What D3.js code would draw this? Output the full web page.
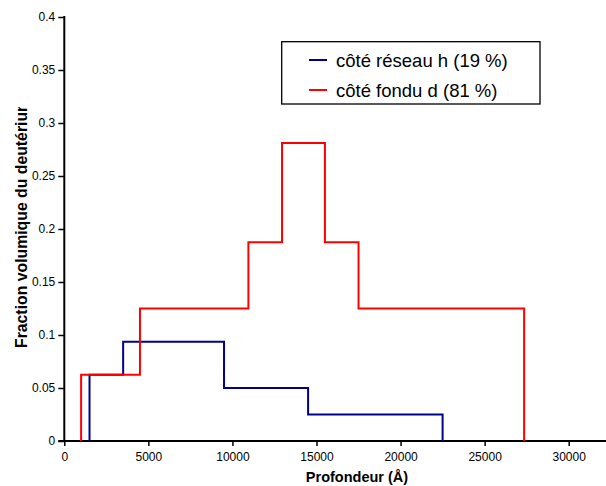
<!DOCTYPE html>
<html><head><meta charset="utf-8">
<script src="https://cdn.jsdelivr.net/npm/d3@7"></script>
<style>body{margin:0;background:#fff}svg{display:block}text{font-family:"Liberation Sans",Arial,sans-serif}</style>
</head><body>
<svg id="c" width="606" height="486"></svg>
<script>
// Step profiles: depth breakpoints (Å) and level values
const reseauX = [1500, 1500, 3500, 3500, 9500, 9500, 14500, 14500, 22500, 22500];
const reseauY = [0, 0.0625, 0.0625, 0.09375, 0.09375, 0.05, 0.05, 0.025, 0.025, 0];
const fonduX = [1000, 1000, 4500, 4500, 10950, 10950, 12950, 12950, 15500, 15500, 17500, 17500, 27350, 27350];
const fonduY = [0, 0.0625, 0.0625, 0.125, 0.125, 0.1875, 0.1875, 0.28125, 0.28125, 0.1875, 0.1875, 0.125, 0.125, 0];
const xTicks = [0, 5000, 10000, 15000, 20000, 25000, 30000];
const yTicks = [0, 0.05, 0.1, 0.15, 0.2, 0.25, 0.3, 0.35, 0.4];
const seriesNames = ["côté réseau h (19 %)", "côté fondu d (81 %)"];
const seriesColors = ["#000090", "#ff0000"];

const svg = d3.select("#c");
const x = d3.scaleLinear().domain([0, 30000]).range([64.3, 568.7]);
const y = d3.scaleLinear().domain([0, 0.4]).range([441, 17]);

// axes
const gx = svg.append("g").attr("transform", "translate(0,441)")
  .call(d3.axisBottom(x).tickValues(xTicks).tickFormat(d3.format("d")).tickSizeOuter(0).tickSize(5).tickPadding(6));
gx.select(".domain").remove();
svg.append("line").attr("x1", x(0) - 6).attr("x2", 606).attr("y1", 441).attr("y2", 441)
  .attr("stroke", "#000").attr("stroke-width", 2);
gx.selectAll(".tick line").attr("stroke-width", 1.5);
gx.selectAll("text").attr("font-size", 12).attr("fill", "#000");

const gy = svg.append("g").attr("transform", "translate(64.3,0)")
  .call(d3.axisLeft(y).tickValues(yTicks).tickFormat(d => d3.format("")(+d.toFixed(2))).tickSizeOuter(0).tickSize(6).tickPadding(3));
gy.select(".domain").remove();
svg.append("line").attr("x1", 64.3).attr("x2", 64.3).attr("y1", 16).attr("y2", 442)
  .attr("stroke", "#000").attr("stroke-width", 2);
gy.selectAll(".tick line").attr("stroke-width", 1.5);
gy.selectAll("text").attr("font-size", 12).attr("fill", "#000");

// titles
svg.append("text").attr("x", 357).attr("y", 482).attr("text-anchor", "middle")
  .attr("font-size", 14.5).attr("font-weight", "bold").text("Profondeur (Å)");
svg.append("clipPath").attr("id", "yclip").append("rect").attr("x", 0).attr("y", 107).attr("width", 60).attr("height", 300);
svg.append("g").attr("clip-path", "url(#yclip)")
  .append("text")
  .attr("transform", "translate(27,348) rotate(-90)")
  .attr("font-size", 15.8).attr("font-weight", "bold").text("Fraction volumique du deutérium");

// lines
const line = d3.line().x(d => x(d[0])).y(d => y(d[1]));
const data = [d3.zip(reseauX, reseauY), d3.zip(fonduX, fonduY)];
data.forEach((pts, i) => {
  svg.append("path").attr("d", line(pts)).attr("fill", "none")
    .attr("stroke", seriesColors[i]).attr("stroke-width", 2);
});

// legend
svg.append("rect").attr("x", 281.7).attr("y", 41.7).attr("width", 258.3).attr("height", 62.3)
  .attr("fill", "#fff").attr("stroke", "#000").attr("stroke-width", 1.3);
seriesNames.forEach((n, i) => {
  const yy = 60 + i * 30;
  svg.append("line").attr("x1", 309).attr("x2", 327).attr("y1", yy).attr("y2", yy)
    .attr("stroke", seriesColors[i]).attr("stroke-width", 2);
  svg.append("text").attr("x", 336).attr("y", yy + 7).attr("font-size", 18.5).text(n);
});
</script>
</body></html>
